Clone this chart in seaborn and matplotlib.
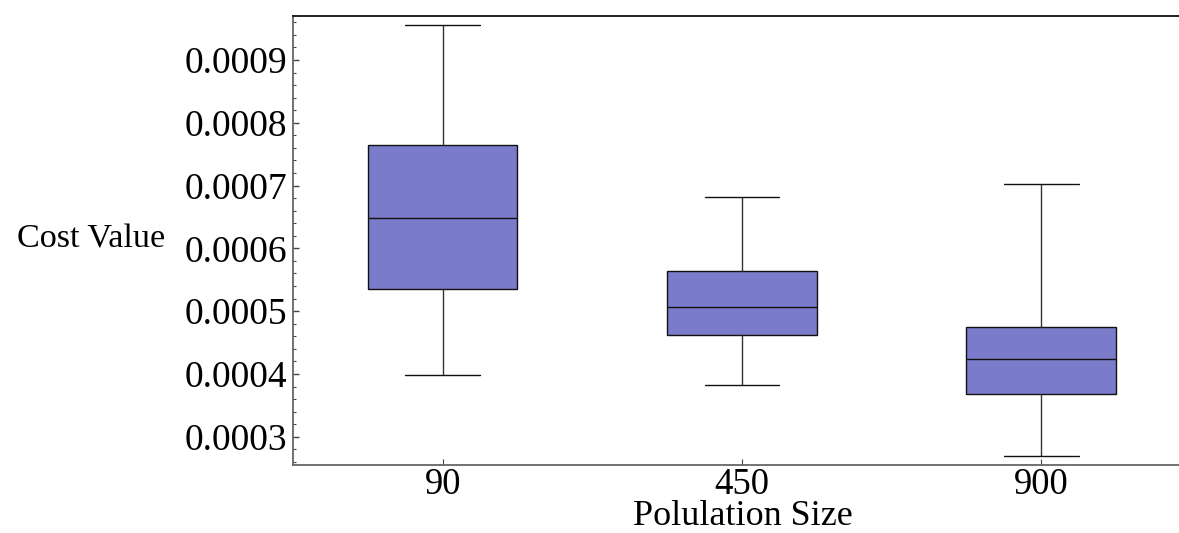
import numpy as np
import pandas as pd
import matplotlib
matplotlib.use("Agg")
import matplotlib.pyplot as plt
from matplotlib.ticker import MultipleLocator, FormatStrFormatter
import seaborn as sns

# Population sizes (categories)
categories = ["90", "450", "900"]
# Five-number summaries: min, Q1, median, Q3, max
summary_90 = [0.000398, 0.000535, 0.000648, 0.000765, 0.000956]
summary_450 = [0.000383, 0.000462, 0.000507, 0.000564, 0.000682]
summary_900 = [0.000269, 0.000368, 0.000424, 0.000475, 0.000703]

df = pd.DataFrame({
    "size": np.repeat(categories, 5),
    "cost": summary_90 + summary_450 + summary_900,
})

sns.set_style("white")
plt.rcParams["font.family"] = ["Liberation Serif", "DejaVu Serif"]
plt.rcParams["text.color"] = "black"
plt.rcParams["axes.labelcolor"] = "black"
plt.rcParams["xtick.labelcolor"] = "black"
plt.rcParams["ytick.labelcolor"] = "black"

fig = plt.figure(figsize=(11.79, 5.33), dpi=100)
ax = fig.add_axes([293 / 1179, (533 - 465) / 533, (1179 - 293) / 1179, (465 - 16) / 533])

sns.boxplot(data=df, x="size", y="cost", order=categories, ax=ax,
            color="#7b7bcc", saturation=1, width=0.5, whis=(0, 100),
            linecolor="#111111", linewidth=1.0, showfliers=False,
            whiskerprops={"color": "#333333"})

ax.set_xlim(-0.5, 2.46)
ax.set_ylim(0.000255, 0.00097)

ax.yaxis.set_major_locator(MultipleLocator(0.0001))
ax.yaxis.set_minor_locator(MultipleLocator(0.00002))
ax.yaxis.set_major_formatter(FormatStrFormatter("%.4f"))

ax.tick_params(axis="y", which="major", direction="in", length=4.5, width=1.0,
               color="#444444", labelcolor="black", labelsize=27, pad=4, left=True)
ax.tick_params(axis="y", which="minor", direction="in", length=2.5, width=0.8,
               color="#444444", left=True)
ax.tick_params(axis="x", which="major", direction="in", length=4, width=0.8,
               color="#444444", labelcolor="black", labelsize=26.5, pad=1.5, bottom=True)

for side in ["left", "bottom"]:
    ax.spines[side].set_color("#666666")
    ax.spines[side].set_linewidth(1.3)
ax.spines["top"].set_color("#111111")
ax.spines["top"].set_linewidth(1.3)
ax.spines["right"].set_visible(False)

ax.set_ylabel("Cost Value", rotation=0, fontsize=24.6, ha="right", va="baseline",
              color="black")
ax.yaxis.set_label_coords((165 - 293) / 886, (465 - 248) / 449)
ax.set_xlabel("Polulation Size", fontsize=26, va="baseline", color="black")
ax.xaxis.set_label_coords((743 - 293) / 886, (465 - 525) / 449)

fig.savefig("out.png", dpi=100)
